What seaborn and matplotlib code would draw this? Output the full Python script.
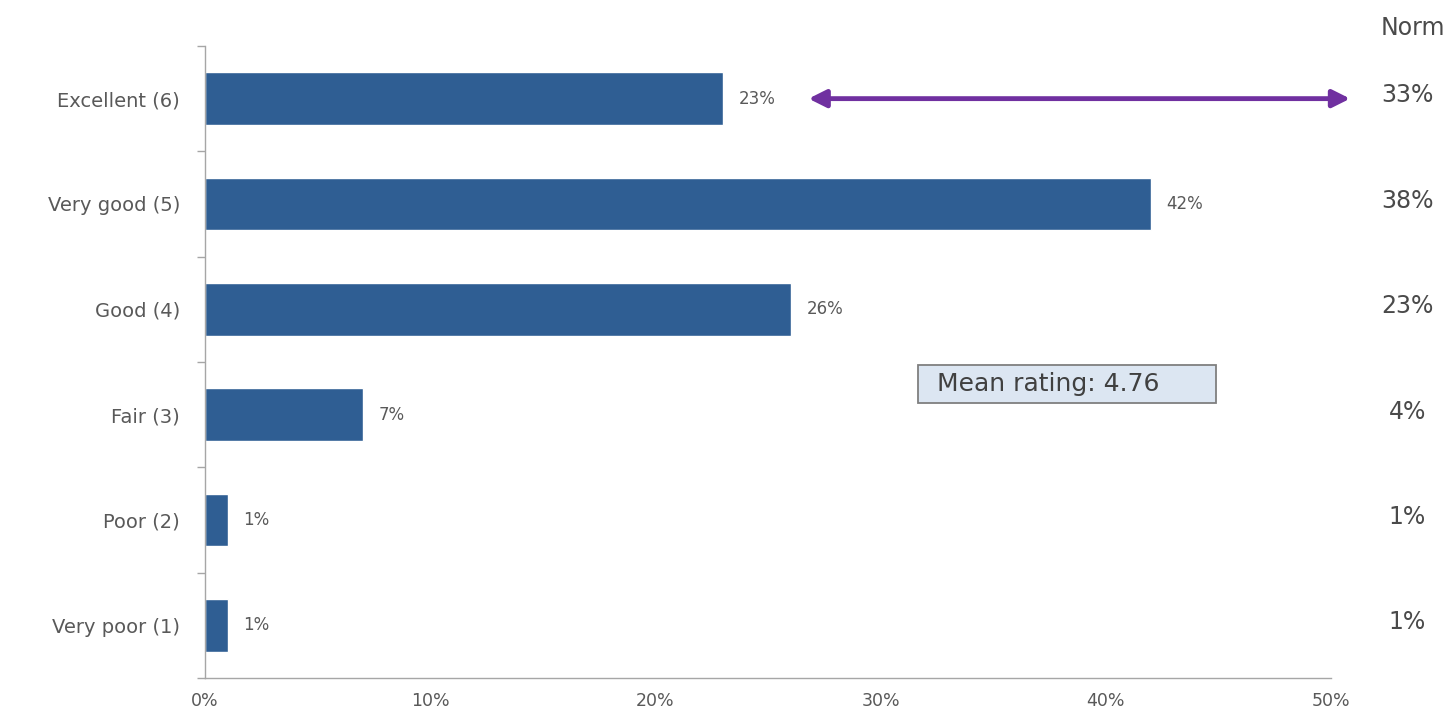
import matplotlib
matplotlib.use("Agg")
import matplotlib.pyplot as plt
import seaborn as sns
import pandas as pd
from matplotlib.patches import Rectangle
from matplotlib.ticker import FixedLocator, PercentFormatter

categories = ["Excellent (6)", "Very good (5)", "Good (4)", "Fair (3)", "Poor (2)", "Very poor (1)"]
shares = [23, 42, 26, 7, 1, 1]
norm_values = [33, 38, 23, 4, 1, 1]
mean_rating = 4.76
x_ticks = [0, 10, 20, 30, 40, 50]

sns.set_theme(style="white")
plt.rcParams["font.family"] = ["DejaVu Sans"]

df = pd.DataFrame({"category": categories, "share": shares})

fig = plt.figure(figsize=(14.54, 7.25), dpi=100)
ax = fig.add_axes([0.141, 0.0648, 0.7744, 0.8718])

sns.barplot(data=df, x="share", y="category", orient="h", color="#2F5E93",
            saturation=1, width=0.5, ax=ax)

ax.set_xlim(0, 50)
ax.set_ylim(len(categories) - 0.5, -0.5)
ax.set_xlabel("")
ax.set_ylabel("")

grey = "#A6A6A6"
text_col = "#595959"
for side in ["top", "right"]:
    ax.spines[side].set_visible(False)
for side in ["left", "bottom"]:
    ax.spines[side].set_color(grey)
    ax.spines[side].set_linewidth(1)

ax.set_xticks(x_ticks)
ax.xaxis.set_major_formatter(PercentFormatter(decimals=0))
ax.tick_params(axis="x", which="major", length=6, direction="inout", color=grey,
               labelsize=12.5, labelcolor=text_col, pad=7)
ax.tick_params(axis="y", which="major", length=0, labelsize=14, labelcolor=text_col, pad=18)
ax.yaxis.set_minor_locator(FixedLocator([i - 0.5 for i in range(len(categories) + 1)]))
ax.tick_params(axis="y", which="minor", left=True, length=6, direction="out", color=grey)

# value labels beside each bar
for i, v in enumerate(shares):
    ax.text(v + 0.7, i, f"{v}%", va="center", ha="left", fontsize=12, color=text_col)

# norm column on the right
norm_x = 53.4
ax.text(norm_x + 0.25, -0.67, "Norm", ha="center", va="center", fontsize=17,
        color="#4A4A4A", clip_on=False)
for i, v in enumerate(norm_values):
    ax.text(norm_x, i - 0.03, f"{v}%", ha="center", va="center", fontsize=17,
            color="#4A4A4A", clip_on=False)

# double-headed arrow from the Excellent label to the norm
ax.annotate("", xy=(50.85, 0), xytext=(26.8, 0),
            arrowprops=dict(arrowstyle="<|-|>", color="#7030A0", lw=3.5,
                            mutation_scale=26, shrinkA=0, shrinkB=0),
            annotation_clip=False)

# mean rating box
box_x0, box_x1 = 31.66, 44.9
box_y0, box_y1 = 2.53, 2.89
ax.add_patch(Rectangle((box_x0, box_y0), box_x1 - box_x0, box_y1 - box_y0,
                       facecolor="#DCE6F2", edgecolor="#7F7F7F", lw=1.3, zorder=3))
ax.text(box_x0 + 0.85, (box_y0 + box_y1) / 2, f"Mean rating: {mean_rating:.2f}",
        ha="left", va="center", fontsize=18, color="#404040", zorder=4)

fig.savefig("out.png", dpi=100, facecolor="white")
